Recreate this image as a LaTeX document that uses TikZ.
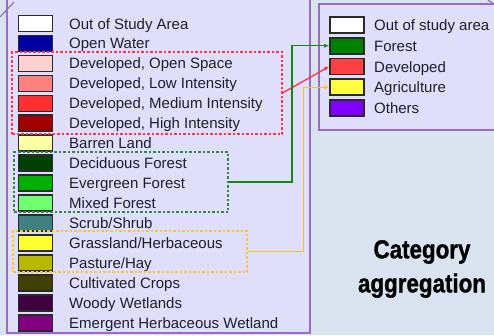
\documentclass[tikz,border=0pt]{standalone}
\usepackage{fontspec}
\setmainfont{Liberation Sans}
\newfontfamily\titlefont[FakeBold=1.3]{Liberation Sans Bold}
\usetikzlibrary{arrows.meta}
\definecolor{bg}{HTML}{DAE3F0}
\definecolor{panel}{HTML}{DFDFFB}
\definecolor{pborder}{HTML}{9A6CC6}
\definecolor{swb}{HTML}{2A2A2A}
\definecolor{txt}{HTML}{1E1E2A}
\definecolor{cWater}{HTML}{0000A0}
\definecolor{cDOS}{HTML}{FFD0D0}
\definecolor{cDLI}{HTML}{FF8080}
\definecolor{cDMI}{HTML}{FF3030}
\definecolor{cDHI}{HTML}{A00000}
\definecolor{cBarren}{HTML}{FFFFA8}
\definecolor{cDecid}{HTML}{004000}
\definecolor{cEver}{HTML}{00B000}
\definecolor{cMixed}{HTML}{70FF70}
\definecolor{cScrub}{HTML}{408080}
\definecolor{cGrass}{HTML}{FFFF30}
\definecolor{cPast}{HTML}{B8B800}
\definecolor{cCrops}{HTML}{404000}
\definecolor{cWoody}{HTML}{400040}
\definecolor{cEmerg}{HTML}{800080}
\definecolor{cForest}{HTML}{008000}
\definecolor{cDev}{HTML}{FF4040}
\definecolor{cAgri}{HTML}{FFFF40}
\definecolor{cOther}{HTML}{8000FF}
\definecolor{gred}{HTML}{FF3344}
\definecolor{ggreen}{HTML}{2E8B3E}
\definecolor{gyellow}{HTML}{FFC626}
\definecolor{lgreen}{HTML}{108A10}
\definecolor{lyellow}{HTML}{FFC21A}
\tikzset{
  swatch/.style={draw=swb, line width=1.6pt, minimum width=34pt, minimum height=16pt, inner sep=0pt},
  lbl/.style={anchor=base west, inner sep=0pt, text=txt, font=\fontsize{15}{18}\selectfont},
  grpbox/.style={draw, dashed, dash pattern=on 2.5pt off 2pt, line width=1.1pt, inner sep=0pt},
  conn/.style={line width=1.3pt, -{Latex[length=5pt,width=4pt]}},
}
\begin{document}
\begin{tikzpicture}[x=1pt,y=-1pt]
\useasboundingbox (0,0) rectangle (494,335);
\fill[bg] (0,0) rectangle (494,335);
% left panel
\fill[panel] (7,-5) rectangle (310,333);
\draw[pborder, line width=1.8pt] (7,-5) -- (7,333) -- (310,333) -- (310,-5);
\draw[pborder, line width=1.2pt] (0,17) -- (14,2);
% right panel
\fill[panel] (319,4) rectangle (500,130);
\draw[pborder, line width=1.8pt] (500,130) -- (319,130) -- (319,4) -- (500,4);
\draw[pborder, line width=1.2pt] (488,0) -- (494,4);
% left legend
\foreach \c/\t/\n [count=\i from 0] in {
  white/Out of Study Area/a,
  cWater/Open Water/b,
  cDOS/{Developed, Open Space}/c,
  cDLI/{Developed, Low Intensity}/d,
  cDMI/{Developed, Medium Intensity}/e,
  cDHI/{Developed, High Intensity}/f,
  cBarren/Barren Land/g,
  cDecid/Deciduous Forest/h,
  cEver/Evergreen Forest/i,
  cMixed/Mixed Forest/j,
  cScrub/Scrub\slash Shrub/k,
  cGrass/Grassland\slash Herbaceous/l,
  cPast/Pasture\slash Hay/m,
  cCrops/Cultivated Crops/n,
  cWoody/Woody Wetlands/o,
  cEmerg/Emergent Herbaceous Wetland/p} {
  \node[swatch, fill=\c] (sw\n) at (35.5, 23.5+19.95*\i) {};
  \node[lbl] (lb\n) at (69, 29+19.95*\i) {\t};
}
% group boxes
\node[grpbox, draw=gred, minimum width=270pt, minimum height=82pt] (devgrp) at (147,93) {};
\node[grpbox, draw=ggreen, minimum width=214pt, minimum height=60pt] (forgrp) at (121,182) {};
\node[grpbox, draw=gyellow, minimum width=234pt, minimum height=41pt] (agrgrp) at (130,251.5) {};
% right legend
\foreach \c/\t/\n [count=\i from 0] in {
  white/Out of study area/A,
  cForest/Forest/B,
  cDev/Developed/C,
  cAgri/Agriculture/D,
  cOther/Others/E} {
  \node[swatch, fill=\c] (rs\n) at (347, 25+20.75*\i) {};
  \node[lbl] (rl\n) at (374, 30.5+20.75*\i) {\t};
}
% connectors
\draw[conn, draw=gred] (devgrp.east) -- (rsC.west);
\draw[conn, draw=lgreen] (forgrp.east) -- ++(63.5,0) |- (rsB.west);
\draw[conn, draw=lyellow] (agrgrp.east) -- ++(56,0) |- (rsD.west);
% title
\node[align=center, inner sep=0pt, font=\titlefont\fontsize{26}{34}\selectfont, xscale=0.86] (title) at (422,269) {Category\\aggregation};
\end{tikzpicture}
\end{document}
